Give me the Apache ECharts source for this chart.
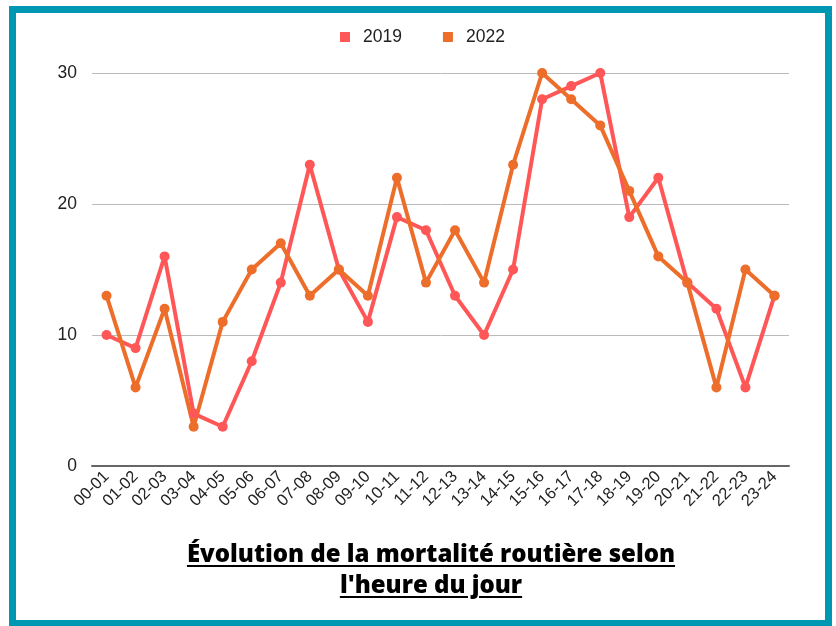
<!DOCTYPE html>
<html><head><meta charset="utf-8">
<script src="https://cdn.jsdelivr.net/npm/echarts@6/dist/echarts.min.js"></script>
<style>
html,body{margin:0;padding:0;background:#fff;}
#wrap{position:relative;width:836px;height:626px;}
#chart{position:absolute;left:0;top:0;width:836px;height:626px;}
#title{position:absolute;left:81px;width:700px;top:537px;text-align:center;font-family:"Open Sans",sans-serif;font-weight:800;font-size:24px;line-height:31px;color:#000;text-decoration:underline;text-decoration-thickness:2px;text-underline-offset:3px;}
</style></head>
<body>
<div id="wrap"><div id="chart"></div>
<div id="title">Évolution de la mortalité routière selon<br>l'heure du jour</div></div>
<script>
const categories = ["00-01","01-02","02-03","03-04","04-05","05-06","06-07","07-08","08-09","09-10","10-11","11-12","12-13","13-14","14-15","15-16","16-17","17-18","18-19","19-20","20-21","21-22","22-23","23-24"];
const values2019 = [10,9,16,4,3,8,14,23,15,11,19,18,13,10,15,28,29,30,19,22,14,12,6,13];
const values2022 = [13,6,12,3,11,15,17,13,15,13,22,14,18,14,23,30,28,26,21,16,14,6,15,13];
const seriesNames = ["2019","2022"];
const chart = echarts.init(document.getElementById('chart'), null, {renderer:'canvas'});
chart.setOption({
  animation:false,
  color:['#ff5757','#ed6d2b'],
  graphic:[{type:'rect',shape:{x:12.5,y:9.5,width:816,height:614},style:{fill:'none',stroke:'#0097b2',lineWidth:7},silent:true}],
  legend:{top:28,left:340,padding:0,itemWidth:10,itemHeight:10,itemGap:41,icon:'rect',
    textStyle:{fontFamily:'Liberation Sans',fontSize:17.5,color:'#222',padding:[0,0,0,8]},data:seriesNames},
  grid:{left:92,right:47,top:73,bottom:160,containLabel:false},
  xAxis:{type:'category',data:categories,boundaryGap:true,
    axisLine:{lineStyle:{color:'#666',width:2}},axisTick:{show:false},
    axisLabel:{rotate:45,interval:0,fontFamily:'Liberation Sans',fontSize:16.5,color:'#222',margin:8}},
  yAxis:{type:'value',min:0,max:30,interval:10,
    axisLine:{show:false},axisTick:{show:false},
    splitLine:{lineStyle:{color:'#bbb',width:1}},
    axisLabel:{fontFamily:'Liberation Sans',fontSize:17.5,color:'#222',margin:15}},
  series:[
    {name:seriesNames[0],type:'line',data:values2019,symbol:'circle',symbolSize:10,lineStyle:{width:4},itemStyle:{color:'#ff5757'}},
    {name:seriesNames[1],type:'line',data:values2022,symbol:'circle',symbolSize:10,lineStyle:{width:4},itemStyle:{color:'#ed6d2b'}}
  ]
});
</script>
</body></html>
